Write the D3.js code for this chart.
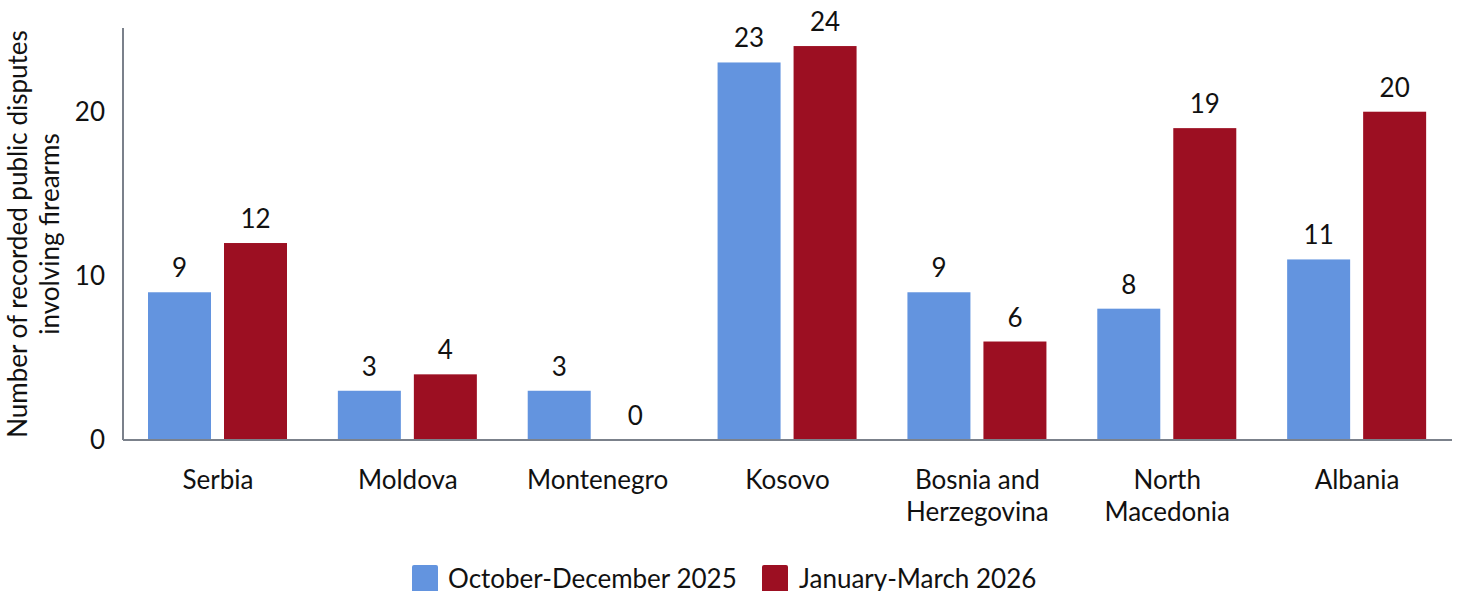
<!DOCTYPE html>
<html><head><meta charset="utf-8">
<script src="https://cdn.jsdelivr.net/npm/d3@7"></script>
<style>body{margin:0;background:#fff;} text{font-family:Lato, "Open Sans", sans-serif;fill:#111;}</style>
</head><body>
<svg id="c" width="1458" height="591"></svg>
<script>
const categories = ["Serbia","Moldova","Montenegro","Kosovo","Bosnia and\nHerzegovina","North\nMacedonia","Albania"];
const seriesNames = ["October-December 2025","January-March 2026"];
const octDec2025 = [9,3,3,23,9,8,11];
const janMar2026 = [12,4,0,24,6,19,20];
const yTicks = [0,10,20];
const colors = ["#6394df","#9c0f22"];
const FS = 26;

const svg = d3.select("#c");
const m = {l:123, r:1452, t:28, b:440};
const x = d3.scaleBand().domain(categories).range([m.l, m.r]).paddingInner(0).paddingOuter(0);
const y = d3.scaleLinear().domain([0, 25.1]).range([m.b, m.t]);
const sub = d3.scaleBand().domain([0,1]).range([25, 25+63*2+13]).paddingInner(13/76);

const series = [octDec2025, janMar2026];
categories.forEach((c,i)=>{
  series.forEach((s,j)=>{
    const v = s[i];
    const bx = x(c) + sub(j);
    const bw = sub.bandwidth();
    svg.append("rect").attr("x",bx).attr("y",y(v)).attr("width",bw).attr("height",m.b-y(v)).attr("fill",colors[j]);
    svg.append("text").attr("x",bx+bw/2).attr("y",y(v)-15).attr("text-anchor","middle")
      .attr("font-size",FS).text(v);
  });
});

// y axis
const ya = svg.append("g").attr("transform",`translate(${m.l},0)`)
  .call(d3.axisLeft(y).tickValues(yTicks).tickSize(0).tickPadding(18));
ya.select(".domain").attr("stroke","#7b818b").attr("stroke-width",2).attr("d",`M0,${m.t}V${m.b}`);
ya.selectAll("text").attr("font-size",FS).attr("fill","#111").style("font-family","Lato");

// x axis
const xa = svg.append("g").attr("transform",`translate(0,${m.b})`)
  .call(d3.axisBottom(x).tickSize(0).tickFormat(""));
xa.select(".domain").attr("stroke","#7b818b").attr("stroke-width",2).attr("d",`M${m.l},0H${m.r}`);
categories.forEach(c=>{
  const lines = c.split("\n");
  const t = svg.append("text").attr("x",x(c)+x.bandwidth()/2).attr("y",489).attr("text-anchor","middle").attr("font-size",FS);
  lines.forEach((ln,k)=>t.append("tspan").attr("x",x(c)+x.bandwidth()/2).attr("dy",k?32:0).text(ln));
});

// y title
const yt = svg.append("text").attr("transform","translate(27,234) rotate(-90)").attr("text-anchor","middle").attr("font-size",FS);
yt.append("tspan").attr("x",0).attr("dy",0).text("Number of recorded public disputes");
yt.append("tspan").attr("x",0).attr("dy",32).text("involving firearms");

// legend
const leg = [{x:412,tx:448},{x:762,tx:799}];
seriesNames.forEach((n,j)=>{
  svg.append("rect").attr("x",leg[j].x).attr("y",565).attr("width",26).attr("height",28).attr("rx",2).attr("fill",colors[j]);
  svg.append("text").attr("x",leg[j].tx).attr("y",588).attr("font-size",FS).text(n);
});
</script>
</body></html>
